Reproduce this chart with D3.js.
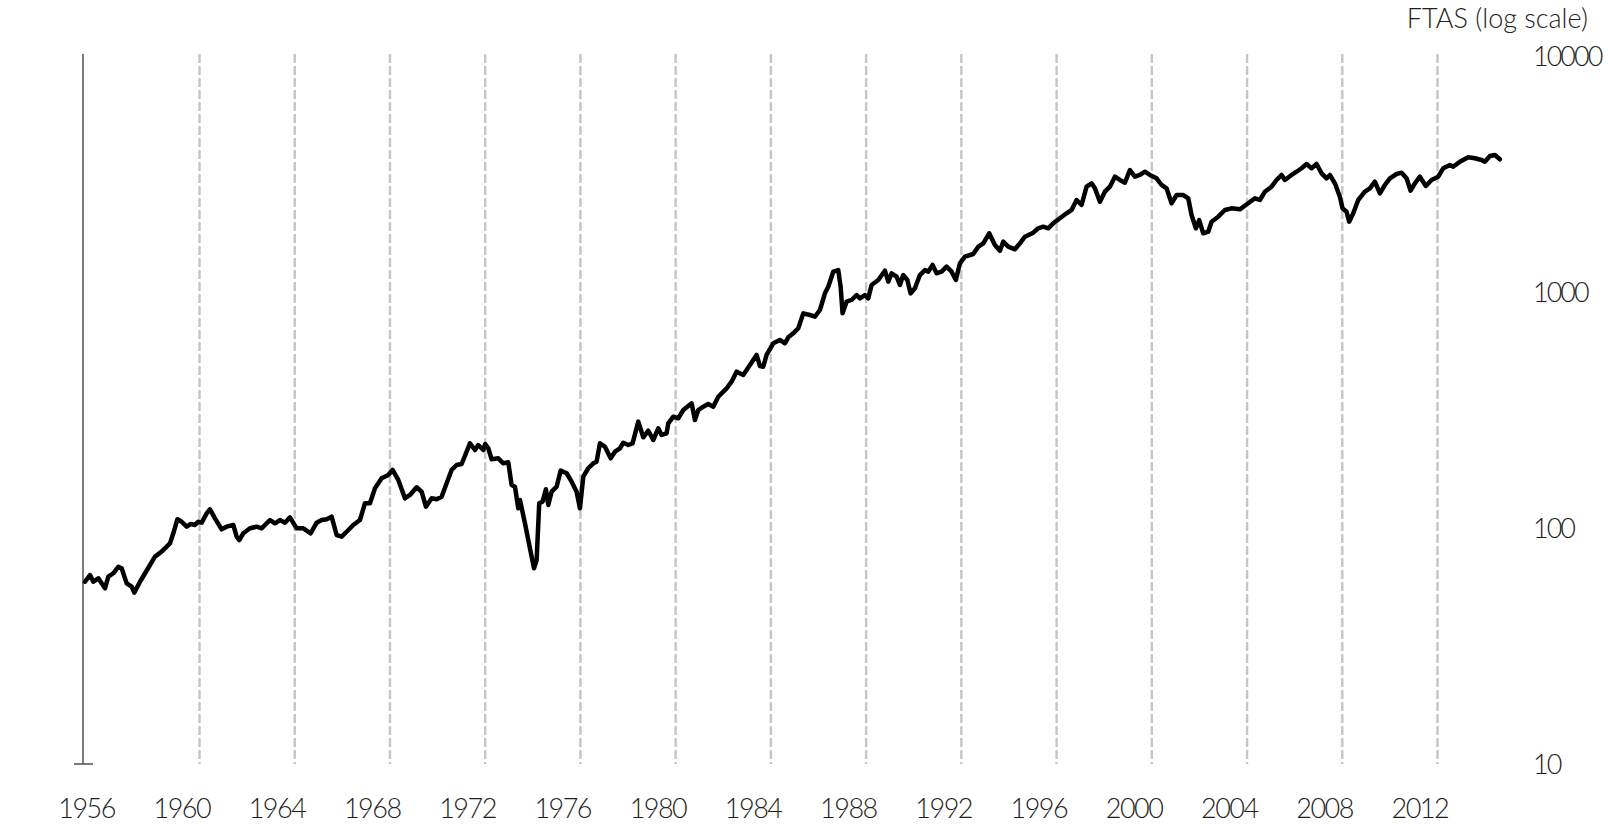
<!DOCTYPE html>
<html>
<head>
<meta charset="utf-8">
<script src="https://cdn.jsdelivr.net/npm/d3@7"></script>
<style>
  html, body { margin: 0; padding: 0; background: #fff; }
  svg { display: block; }
  text { font-family: Lato, "Open Sans", sans-serif; fill: #1e1e1e; }
</style>
</head>
<body>
<svg id="chart" width="1608" height="824"></svg>
<script>
// ---- data ----
const years = [
1955.19,1955.40,1955.54,1955.75,1956.03,1956.17,1956.38,1956.59,1956.73,1956.94,
1957.15,1957.26,1957.50,1957.92,1958.13,1958.41,1958.62,1958.76,1958.90,1959.07,
1959.25,1959.46,1959.63,1959.81,1959.95,1960.09,1960.30,1960.44,1960.65,1960.93,
1961.14,1961.42,1961.56,1961.67,1961.84,1962.12,1962.40,1962.61,1962.96,1963.17,
1963.38,1963.59,1963.80,1964.08,1964.36,1964.67,1964.92,1965.13,1965.34,1965.55,
1965.76,1965.97,1966.18,1966.46,1966.74,1966.95,1967.16,1967.37,1967.65,1967.93,
1968.11,1968.35,1968.63,1968.84,1969.12,1969.33,1969.51,1969.75,1969.96,1970.17,
1970.38,1970.59,1970.80,1971.01,1971.36,1971.57,1971.71,1971.92,1972.00,1972.13,
1972.27,1972.55,1972.76,1972.97,1973.11,1973.25,1973.39,1973.46,1973.67,1973.81,
1973.95,1974.05,1974.16,1974.27,1974.41,1974.55,1974.65,1974.79,1975.00,1975.17,
1975.42,1975.63,1975.84,1975.98,1976.12,1976.33,1976.54,1976.68,1976.82,1977.03,
1977.27,1977.45,1977.66,1977.80,1978.01,1978.19,1978.43,1978.64,1978.85,1979.06,
1979.27,1979.41,1979.62,1979.69,1979.90,1980.11,1980.32,1980.53,1980.67,1980.81,
1980.95,1981.16,1981.37,1981.58,1981.79,1982.14,1982.35,1982.56,1982.84,1983.12,
1983.40,1983.54,1983.68,1983.82,1984.10,1984.38,1984.59,1984.73,1984.94,1985.15,
1985.36,1985.64,1985.85,1986.06,1986.27,1986.41,1986.62,1986.83,1986.93,1987.01,
1987.18,1987.39,1987.60,1987.74,1987.95,1988.09,1988.23,1988.51,1988.79,1988.93,
1989.07,1989.28,1989.42,1989.56,1989.73,1989.87,1990.05,1990.26,1990.47,1990.61,
1990.79,1990.96,1991.17,1991.38,1991.59,1991.77,1991.94,1992.15,1992.50,1992.71,
1992.92,1993.17,1993.41,1993.62,1993.76,1993.97,1994.25,1994.46,1994.67,1995.02,
1995.23,1995.44,1995.65,1995.86,1996.14,1996.42,1996.63,1996.84,1997.05,1997.26,
1997.47,1997.61,1997.82,1998.03,1998.24,1998.45,1998.66,1998.87,1999.08,1999.29,
1999.50,1999.71,1999.92,2000.20,2000.41,2000.62,2000.83,2001.04,2001.32,2001.53,
2001.67,2001.85,2001.99,2002.16,2002.37,2002.51,2002.79,2003.07,2003.35,2003.70,
2004.05,2004.33,2004.54,2004.75,2005.03,2005.24,2005.45,2005.59,2005.87,2006.08,
2006.29,2006.50,2006.71,2006.92,2007.13,2007.34,2007.48,2007.69,2007.90,2008.01,
2008.18,2008.29,2008.46,2008.67,2008.95,2009.16,2009.37,2009.58,2009.79,2010.00,
2010.28,2010.49,2010.70,2010.87,2011.05,2011.26,2011.51,2011.75,2012.03,2012.24,
2012.52,2012.66,2012.94,2013.29,2013.57,2013.85,2013.99,2014.20,2014.41,2014.62
];
const ftas = [
59.2,63.2,59.2,61.2,55.5,62.2,64.3,68.5,67.5,58.3,
56.4,53.2,59.2,69.7,75.6,79.4,83.3,86.1,95.0,108.9,
106.3,101.3,104.0,103.0,106.3,105.3,115.4,120.0,109.9,98.7,
101.3,103.0,91.9,88.9,95.0,99.7,101.3,99.7,108.1,104.7,
108.1,105.3,111.0,99.7,99.7,95.0,105.3,108.1,108.9,111.7,
93.4,91.9,96.4,103.0,108.1,127.3,127.3,147.3,162.4,167.7,
176.2,159.8,133.6,138.0,148.8,142.5,123.1,133.6,132.3,135.7,
154.7,176.2,184.9,186.7,228.5,214.0,224.7,214.0,227.0,217.7,
195.5,197.4,188.0,189.8,152.1,149.6,121.2,131.4,104.7,88.9,
75.6,67.5,73.2,127.3,129.3,145.9,125.2,142.5,149.6,175.0,
170.6,157.1,142.5,121.2,165.0,179.1,188.0,191.0,228.5,221.1,
197.4,210.6,217.7,229.8,224.7,228.5,282.2,242.3,258.4,236.0,
264.5,247.8,252.0,277.8,296.3,291.6,316.2,328.9,337.6,286.8,
316.2,326.6,335.3,326.6,360.0,390.8,416.9,459.6,444.9,490.6,
540.9,485.8,482.5,540.9,606.2,626.1,606.2,642.7,668.3,702,
812,799,786,839,987,1053,1219,1239,1053,812,
910,925,971,940,971,940,1071,1124,1231,1106,
1200,1161,1071,1180,1124,987,1037,1180,1239,1219,
1302,1200,1219,1280,1219,1124,1323,1411,1449,1556,
1608,1773,1582,1496,1634,1556,1517,1608,1715,1784,
1862,1891,1862,1955,2053,2156,2226,2454,2337,2794,
2887,2750,2413,2661,2794,3080,2983,2906,3288,3080,
3132,3233,3132,3032,2841,2750,2376,2576,2576,2495,
2120,1862,2018,1773,1801,1986,2085,2226,2262,2240,
2376,2495,2454,2661,2794,2983,3132,2983,3132,3233,
3344,3487,3344,3487,3184,3032,3132,2887,2534,2262,
2189,1986,2156,2454,2661,2750,2934,2619,2841,3032,
3162,3203,3032,2687,2887,3080,2813,2983,3080,3344,
3452,3396,3566,3722,3686,3626,3566,3770,3807,3651
];
const gridYears = [1960,1964,1968,1972,1976,1980,1984,1988,1992,1996,2000,2004,2008,2012];
const yearLabels = ["1956","1960","1964","1968","1972","1976","1980","1984","1988","1992","1996","2000","2004","2008","2012"];
const valueTicks = [10,100,1000,10000];
const axisTitle = "FTAS (log scale)";

// ---- chart ----
const svg = d3.select("#chart");
const x = d3.scaleLinear().domain([1960, 2012]).range([199.5, 1437.5]);
const y = d3.scaleLog().domain([10, 10000]).range([764, 56]);
const axisX = 83;
const plotTop = 54;

// dashed vertical gridlines
svg.append("g").selectAll("line").data(gridYears).join("line")
  .attr("x1", d => x(d)).attr("x2", d => x(d))
  .attr("y1", plotTop).attr("y2", y(10))
  .attr("stroke", "#c6c6c6").attr("stroke-width", 2.4)
  .attr("stroke-dasharray", "9,3");

// left axis line with bottom tick
svg.append("line")
  .attr("x1", axisX).attr("x2", axisX)
  .attr("y1", plotTop).attr("y2", y(10))
  .attr("stroke", "#5a5a5a").attr("stroke-width", 1.6);
svg.append("line")
  .attr("x1", axisX - 9).attr("x2", axisX + 10)
  .attr("y1", y(10)).attr("y2", y(10))
  .attr("stroke", "#5a5a5a").attr("stroke-width", 1.6);

// right value axis (labels only)
const yAxis = d3.axisRight(y).tickValues(valueTicks).tickSize(0).tickPadding(0)
  .tickFormat(d3.format("d"));
const gy = svg.append("g").attr("transform", "translate(1533,0)").call(yAxis);
gy.select(".domain").remove();
gy.selectAll("text")
  .attr("font-family", "Lato, 'Open Sans', sans-serif")
  .attr("font-size", 27).attr("font-weight", 300)
  .attr("letter-spacing", "-2px")
  .attr("fill", "#1e1e1e").attr("dy", "0.36em");

// bottom year labels (offset left of the gridlines, as in the reference)
const labelShift = -17.7;
svg.append("g").selectAll("text").data(yearLabels).join("text")
  .attr("x", d => x(+d) + labelShift)
  .attr("y", 808)
  .attr("dy", "0.36em")
  .attr("text-anchor", "middle")
  .attr("font-size", 27).attr("font-weight", 300)
  .attr("letter-spacing", "-1.5px")
  .text(d => d);

// axis title
svg.append("text")
  .attr("x", 1588).attr("y", 28)
  .attr("text-anchor", "end")
  .attr("font-size", 27).attr("font-weight", 300)
  .text(axisTitle);

// the FTAS line
const pts = years.map((yr, i) => [yr, ftas[i]]);
const line = d3.line().x(d => x(d[0])).y(d => y(d[1]));
svg.append("path").datum(pts)
  .attr("d", line)
  .attr("fill", "none")
  .attr("stroke", "#000")
  .attr("stroke-width", 4.5)
  .attr("stroke-linejoin", "round")
  .attr("stroke-linecap", "round");
</script>
</body>
</html>
